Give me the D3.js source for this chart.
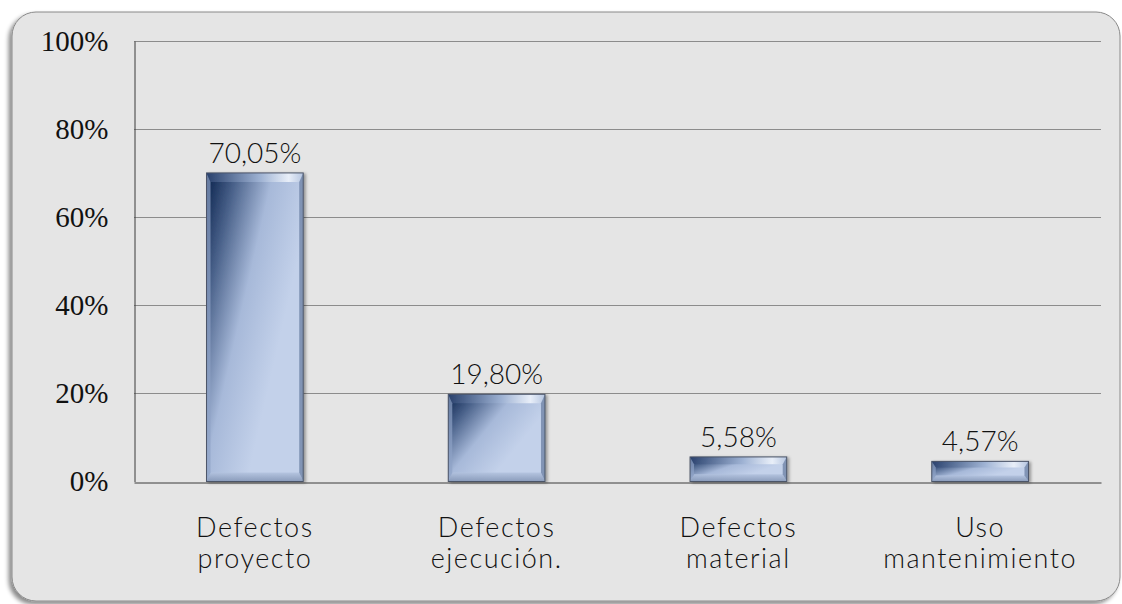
<!DOCTYPE html>
<html>
<head>
<meta charset="utf-8">
<script src="https://cdn.jsdelivr.net/npm/d3@7"></script>
<style>
  body { margin: 0; background: #ffffff; }
  svg { display: block; }
</style>
</head>
<body>
<div id="chartDiv"></div>
<script>
// data
var categories = [["Defectos", "proyecto"], ["Defectos", "ejecución."], ["Defectos", "material"], ["Uso", "mantenimiento"]];
var values = [70.05, 19.80, 5.58, 4.57];
var yTicks = [0, 20, 40, 60, 80, 100];

var width = 1122, height = 604;
var margin = {top: 41, right: 21, bottom: 122.5, left: 134};

var svg = d3.select("#chartDiv")
    .append("svg")
        .attr("width", width)
        .attr("height", height);

var defs = svg.append("defs");

// shadow of the panel (left and bottom)
var panelShadow = defs.append("filter").attr("id", "panelShadow")
    .attr("x", "-5%").attr("y", "-5%").attr("width", "110%").attr("height", "110%");
panelShadow.append("feDropShadow")
    .attr("dx", -3).attr("dy", 3).attr("stdDeviation", 2)
    .attr("flood-color", "#000").attr("flood-opacity", 0.45);

var barShadow = defs.append("filter").attr("id", "barShadow")
    .attr("x", "-20%").attr("y", "-20%").attr("width", "140%").attr("height", "140%");
barShadow.append("feDropShadow")
    .attr("dx", 2).attr("dy", 1).attr("stdDeviation", 1.5)
    .attr("flood-color", "#000").attr("flood-opacity", 0.35);

// face gradient: dark navy top-left to pale blue
var face = defs.append("linearGradient").attr("id", "barFace")
    .attr("x1", 0).attr("y1", 0).attr("x2", 0.75).attr("y2", 0.55);
face.append("stop").attr("offset", "0%").attr("stop-color", "#08204a");
face.append("stop").attr("offset", "25%").attr("stop-color", "#455d86");
face.append("stop").attr("offset", "60%").attr("stop-color", "#a7b9d9");
face.append("stop").attr("offset", "100%").attr("stop-color", "#c3d1ea");

var topBevel = defs.append("linearGradient").attr("id", "topBevel")
    .attr("x1", 0).attr("y1", 0).attr("x2", 1).attr("y2", 0);
topBevel.append("stop").attr("offset", "0%").attr("stop-color", "#2c4470");
topBevel.append("stop").attr("offset", "55%").attr("stop-color", "#9fb3d4");
topBevel.append("stop").attr("offset", "85%").attr("stop-color", "#eef3fb");
topBevel.append("stop").attr("offset", "100%").attr("stop-color", "#b5c5e0");

var bottomBevel = defs.append("linearGradient").attr("id", "bottomBevel")
    .attr("x1", 0).attr("y1", 0).attr("x2", 0).attr("y2", 1);
bottomBevel.append("stop").attr("offset", "0%").attr("stop-color", "#b2c2de");
bottomBevel.append("stop").attr("offset", "100%").attr("stop-color", "#8193b3");

// panel
svg.append("rect")
    .attr("x", 12).attr("y", 12)
    .attr("width", 1108).attr("height", 589)
    .attr("rx", 24).attr("ry", 24)
    .attr("fill", "#e5e5e5")
    .attr("stroke", "#8a8a8a")
    .attr("stroke-width", 1)
    .attr("filter", "url(#panelShadow)");

var x = d3.scaleBand()
    .domain(d3.range(categories.length))
    .range([margin.left, width - margin.right])
    .paddingInner(0.6)
    .paddingOuter(0.3);

var y = d3.scaleLinear()
    .domain([0, 100])
    .range([height - margin.bottom, margin.top]);

// gridlines
svg.append("g")
    .selectAll("line")
    .data(yTicks.filter(function (d) { return d > 0; }))
    .enter()
    .append("line")
    .attr("x1", margin.left)
    .attr("x2", width - margin.right)
    .attr("y1", function (d) { return Math.round(y(d)) + 0.5; })
    .attr("y2", function (d) { return Math.round(y(d)) + 0.5; })
    .attr("stroke", "#8c8c8c")
    .attr("stroke-width", 1);

// Y axis
var yAxis = svg.append("g")
    .attr("transform", "translate(" + (margin.left + 0.5) + ",0)")
    .call(d3.axisLeft(y).tickValues(yTicks).tickSize(0).tickPadding(26)
        .tickFormat(function (d) { return d + "%"; }));
yAxis.select(".domain").attr("stroke", "#3a3a3a");
yAxis.selectAll("text")
    .style("font-family", "'Liberation Serif', 'DejaVu Serif', serif")
    .style("font-size", "29px")
    .attr("fill", "#111");

// X axis
var xAxis = svg.append("g")
    .attr("transform", "translate(0," + (Math.round(y(0)) + 0.5) + ")")
    .call(d3.axisBottom(x).tickSize(0).tickFormat(""));
xAxis.select(".domain").attr("stroke", "#3a3a3a");

// bars
var bars = svg.append("g")
    .selectAll("g")
    .data(values)
    .enter()
    .append("g")
    .attr("filter", "url(#barShadow)");

function geom(d, i) {
    var bx = x(i), by = y(d), bw = x.bandwidth(), bh = y(0) - y(d);
    var bt = Math.min(9, bh * 0.3), bs = Math.min(4, bh * 0.2);
    return {x: bx, y: by, w: bw, h: bh, t: bt, s: bs};
}

bars.append("rect")
    .attr("x", function (d, i) { return geom(d, i).x; })
    .attr("y", function (d, i) { return geom(d, i).y; })
    .attr("width", x.bandwidth())
    .attr("height", function (d, i) { return geom(d, i).h; })
    .attr("fill", "url(#barFace)");

// top bevel
bars.append("path")
    .attr("d", function (d, i) {
        var g = geom(d, i);
        return "M" + g.x + "," + g.y + "L" + (g.x + g.w) + "," + g.y +
            "L" + (g.x + g.w - g.s) + "," + (g.y + g.t) + "L" + (g.x + g.s) + "," + (g.y + g.t) + "Z";
    })
    .attr("fill", "url(#topBevel)")
    .attr("opacity", 0.9);

// bottom bevel
bars.append("path")
    .attr("d", function (d, i) {
        var g = geom(d, i), yb = g.y + g.h;
        return "M" + g.x + "," + yb + "L" + (g.x + g.w) + "," + yb +
            "L" + (g.x + g.w - g.s) + "," + (yb - g.t) + "L" + (g.x + g.s) + "," + (yb - g.t) + "Z";
    })
    .attr("fill", "url(#bottomBevel)")
    .attr("opacity", 0.85);

// right bevel
bars.append("path")
    .attr("d", function (d, i) {
        var g = geom(d, i), xr = g.x + g.w;
        return "M" + xr + "," + g.y + "L" + xr + "," + (g.y + g.h) +
            "L" + (xr - g.s) + "," + (g.y + g.h - g.t) + "L" + (xr - g.s) + "," + (g.y + g.t) + "Z";
    })
    .attr("fill", "#7084a8")
    .attr("opacity", 0.8);

// left bevel
bars.append("path")
    .attr("d", function (d, i) {
        var g = geom(d, i);
        return "M" + g.x + "," + g.y + "L" + g.x + "," + (g.y + g.h) +
            "L" + (g.x + g.s) + "," + (g.y + g.h - g.t) + "L" + (g.x + g.s) + "," + (g.y + g.t) + "Z";
    })
    .attr("fill", "#8ea2c6")
    .attr("opacity", 0.7);

// outline
bars.append("rect")
    .attr("x", function (d, i) { return geom(d, i).x; })
    .attr("y", function (d, i) { return geom(d, i).y; })
    .attr("width", x.bandwidth())
    .attr("height", function (d, i) { return geom(d, i).h; })
    .attr("fill", "none")
    .attr("stroke", "#4b5468")
    .attr("stroke-width", 1);

// value labels
svg.append("g")
    .selectAll("text")
    .data(values)
    .enter()
    .append("text")
    .attr("x", function (d, i) { return x(i) + x.bandwidth() / 2; })
    .attr("y", function (d) { return y(d) - 10; })
    .attr("text-anchor", "middle")
    .style("font-family", "'Lato', 'DejaVu Sans', sans-serif")
    .style("font-weight", 300)
    .style("font-size", "28px")
    .attr("fill", "#111")
    .text(function (d) { return d.toFixed(2).replace(".", ",") + "%"; });

// category labels
var catLabels = svg.append("g")
    .selectAll("text")
    .data(categories)
    .enter()
    .append("text")
    .attr("x", function (d, i) { return x(i) + x.bandwidth() / 2; })
    .attr("y", 537)
    .attr("text-anchor", "middle")
    .style("font-family", "'Lato', 'DejaVu Sans', sans-serif")
    .style("font-weight", 300)
    .style("font-size", "27px")
    .style("letter-spacing", "1.5px")
    .attr("fill", "#111");

catLabels.selectAll("tspan")
    .data(function (d) { return d; })
    .enter()
    .append("tspan")
    .attr("x", function () { return d3.select(this.parentNode).attr("x"); })
    .attr("dy", function (d, j) { return j === 0 ? 0 : 31; })
    .text(function (d) { return d; });
</script>
</body>
</html>
